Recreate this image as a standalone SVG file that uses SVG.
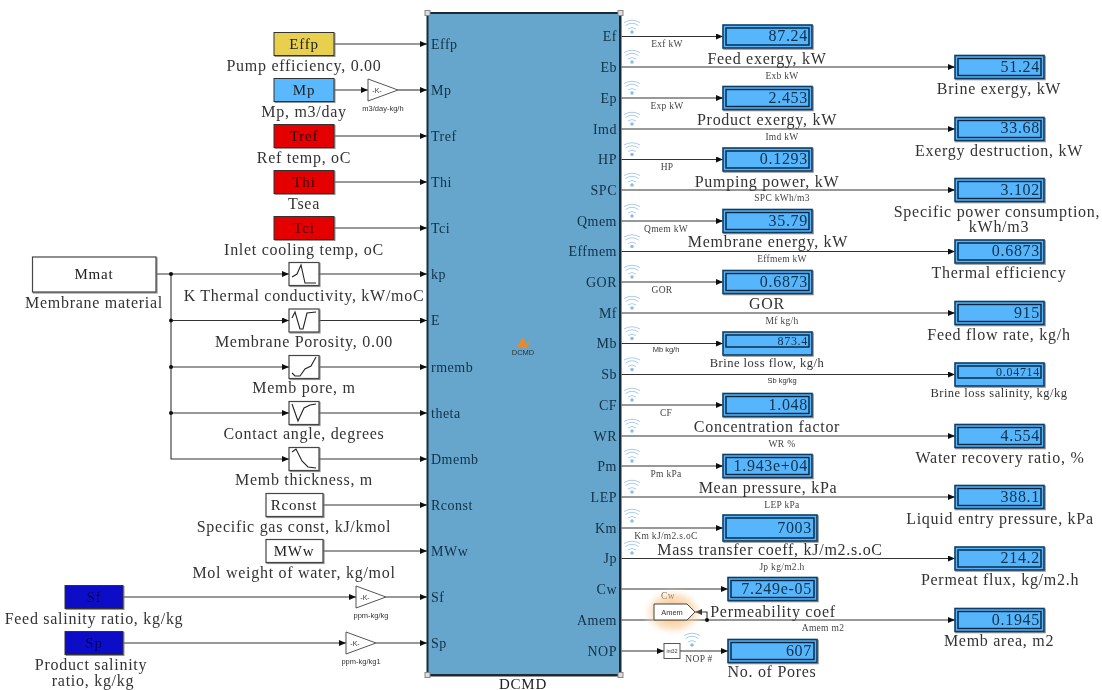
<svg xmlns="http://www.w3.org/2000/svg" xmlns:xlink="http://www.w3.org/1999/xlink" width="1102" height="690" viewBox="0 0 1102 690">
<style>
text{font-family:"Liberation Serif","Times New Roman",serif;fill:#222}
.l{font-size:16px;letter-spacing:.72px;text-anchor:middle;fill:#333}
.n{font-size:15px;letter-spacing:.8px;text-anchor:middle}
.p{font-size:14px;letter-spacing:.5px;fill:#123047}
.r{text-anchor:end}
.t{font-size:9.5px;letter-spacing:.3px;text-anchor:middle;fill:#444}
.x{font-family:"Liberation Sans",Arial,sans-serif;font-size:7.5px;text-anchor:middle;fill:#333}
.v{font-size:16px;letter-spacing:.7px;text-anchor:end;fill:#10304a}
.sm{font-size:12.500px;letter-spacing:.5px}
.vs{font-size:12px}
.b{stroke:#333;stroke-width:1;filter:url(#sh)}
.o{fill:#57b5fb;stroke:#103e63;stroke-width:1.6;filter:url(#sh)}
.i{fill:none;stroke:#08263f;stroke-width:1.4}
.w{fill:#fff;stroke:#444;stroke-width:1.2;filter:url(#sh)}
.c{fill:none;stroke:#333;stroke-width:1.1}
.a{marker-end:url(#ah)}
.g{fill:#fff;stroke:#555;stroke-width:1}
.k{fill:none;stroke:#222;stroke-width:1.1}
</style>
<defs>
<filter id="blur" x="0" y="0" width="100%" height="100%"><feGaussianBlur stdDeviation="0.6"/></filter>
<filter id="sh" x="-10%" y="-10%" width="125%" height="125%"><feDropShadow dx="1" dy="1" stdDeviation="0.7" flood-color="#777" flood-opacity=".8"/></filter>
<marker id="ah" markerUnits="userSpaceOnUse" markerWidth="7" markerHeight="6" refX="7" refY="3" orient="auto"><path d="M0 0L7 3L0 6Z" fill="#111"/></marker>
<radialGradient id="glow"><stop offset="0" stop-color="#f3a24a" stop-opacity=".85"/><stop offset=".65" stop-color="#f8c88f" stop-opacity=".5"/><stop offset="1" stop-color="#fff" stop-opacity="0"/></radialGradient>
<g id="wf"><circle cx="0" cy="0" r="1.8" fill="#8fbce6"/><path d="M-4-3Q0-6 4-3M-6.500-6.500Q0-11 6.500-6.500M-8-9.500Q0-14 8-9.500" fill="none" stroke="#a9cdee" stroke-width="1"/></g>
</defs>
<rect width="1102" height="690" fill="#fff"/>
<g filter="url(#blur)">
<g id="connectors">
<path class="c a" d="M334 44H427"/>
<path class="c a" d="M334 90H368"/><path class="c a" d="M398 90H427"/>
<path class="c a" d="M334 136H427"/><path class="c a" d="M334 182H427"/><path class="c a" d="M334 228H427"/>
<path class="c a" d="M156 274H289"/><path class="c a" d="M171 320.500H289"/><path class="c a" d="M171 367H289"/><path class="c a" d="M171 413H289"/><path class="c a" d="M171 274V459H289"/>
<path class="c a" d="M319 274H427"/><path class="c a" d="M319 320.500H427"/><path class="c a" d="M319 367H427"/><path class="c a" d="M319 413H427"/><path class="c a" d="M319 459H427"/>
<path class="c a" d="M323 505H427"/><path class="c a" d="M323 551H427"/>
<path class="c a" d="M123 597H356"/><path class="c a" d="M386 597H427"/>
<path class="c a" d="M123 643H346"/><path class="c a" d="M376 643H427"/>
<path class="c a" d="M620 36.500H723"/><path class="c a" d="M620 67H955"/><path class="c a" d="M620 98H723"/><path class="c a" d="M620 129H955"/><path class="c a" d="M620 159.500H723"/><path class="c a" d="M620 190H955"/><path class="c a" d="M620 221H723"/><path class="c a" d="M620 251.500H955"/><path class="c a" d="M620 282H723"/><path class="c a" d="M620 313H955"/><path class="c a" d="M620 343.500H723"/><path class="c a" d="M620 374.500H955"/><path class="c a" d="M620 405H723"/><path class="c a" d="M620 436H955"/><path class="c a" d="M620 466H723"/><path class="c a" d="M620 497H955"/><path class="c a" d="M620 528H723"/><path class="c a" d="M620 558.500H955"/><path class="c a" d="M620 589H728"/><path class="c a" d="M620 620H955"/>
<path class="c a" d="M707 620V612H695"/>
<path class="c a" d="M620 651H664"/><path class="c a" d="M680 651H728"/>
<g fill="#111"><circle cx="171" cy="274" r="2"/><circle cx="171" cy="320.500" r="2"/><circle cx="171" cy="367" r="2"/><circle cx="171" cy="413" r="2"/><circle cx="707" cy="620" r="2"/></g>
</g>
<g id="main">
<rect x="427.500" y="13" width="192.500" height="662" fill="#66a6cc" stroke="#1c2c38" stroke-width="2" filter="url(#sh)"/>
<g fill="#ddd" stroke="#888"><rect x="425" y="10.500" width="5" height="5"/><rect x="618" y="10.500" width="5" height="5"/><rect x="425" y="672.500" width="5" height="5"/><rect x="618" y="672.500" width="5" height="5"/></g>
<path d="M517 347L523 337L526 344L530 341L527 348Z" fill="#e98a2c"/>
<text class="x" x="523" y="355" font-size="7">DCMD</text>
<g class="pl"><text class="p" x="431" y="49">Effp</text><text class="p" x="431" y="95">Mp</text><text class="p" x="431" y="141">Tref</text><text class="p" x="431" y="187">Thi</text><text class="p" x="431" y="233">Tci</text><text class="p" x="431" y="279">kp</text><text class="p" x="431" y="325">E</text><text class="p" x="431" y="372">rmemb</text><text class="p" x="431" y="418">theta</text><text class="p" x="431" y="464">Dmemb</text><text class="p" x="431" y="510">Rconst</text><text class="p" x="431" y="556">MWw</text><text class="p" x="431" y="602">Sf</text><text class="p" x="431" y="648">Sp</text></g>
<g class="pr"><text class="p r" x="617" y="41">Ef</text><text class="p r" x="617" y="72">Eb</text><text class="p r" x="617" y="103">Ep</text><text class="p r" x="617" y="134">Imd</text><text class="p r" x="617" y="164">HP</text><text class="p r" x="617" y="195">SPC</text><text class="p r" x="617" y="226">Qmem</text><text class="p r" x="617" y="256">Effmem</text><text class="p r" x="617" y="287">GOR</text><text class="p r" x="617" y="318">Mf</text><text class="p r" x="617" y="348">Mb</text><text class="p r" x="617" y="379">Sb</text><text class="p r" x="617" y="410">CF</text><text class="p r" x="617" y="441">WR</text><text class="p r" x="617" y="471">Pm</text><text class="p r" x="617" y="502">LEP</text><text class="p r" x="617" y="533">Km</text><text class="p r" x="617" y="563">Jp</text><text class="p r" x="617" y="594">Cw</text><text class="p r" x="617" y="625">Amem</text><text class="p r" x="617" y="656">NOP</text></g>
<text class="n" x="523" y="689">DCMD</text>
</g>
<g id="wifi"><use xlink:href="#wf" x="632" y="32"/><use xlink:href="#wf" x="632" y="62"/><use xlink:href="#wf" x="632" y="93"/><use xlink:href="#wf" x="632" y="124"/><use xlink:href="#wf" x="632" y="154.500"/><use xlink:href="#wf" x="632" y="185"/><use xlink:href="#wf" x="632" y="216"/><use xlink:href="#wf" x="632" y="246.500"/><use xlink:href="#wf" x="632" y="277"/><use xlink:href="#wf" x="632" y="308"/><use xlink:href="#wf" x="632" y="338.500"/><use xlink:href="#wf" x="632" y="369.500"/><use xlink:href="#wf" x="632" y="400"/><use xlink:href="#wf" x="632" y="431"/><use xlink:href="#wf" x="632" y="461"/><use xlink:href="#wf" x="632" y="492"/><use xlink:href="#wf" x="632" y="521"/><use xlink:href="#wf" x="632" y="553"/><use xlink:href="#wf" x="692" y="645"/></g>
<g id="Effp"><rect class="b" x="274" y="32.500" width="60" height="23" fill="#e8cf4e"/><text class="n" x="304" y="49">Effp</text><text class="l" x="304" y="71">Pump efficiency, 0.00</text></g>
<g id="Mp"><rect class="b" x="274" y="78.500" width="60" height="23" fill="#5ab8ff"/><text class="n" x="304" y="95">Mp</text><text class="l" x="304" y="117">Mp, m3/day</text></g>
<g id="Tref"><rect class="b" x="274" y="124.500" width="60" height="23" fill="#e40000"/><text class="n" x="304" y="141" style="fill:#300">Tref</text><text class="l" x="304" y="163">Ref temp, oC</text></g>
<g id="Thi"><rect class="b" x="274" y="170.500" width="60" height="23" fill="#e40000"/><text class="n" x="304" y="187" style="fill:#300">Thi</text><text class="l" x="304" y="209">Tsea</text></g>
<g id="Tci"><rect class="b" x="274" y="216.500" width="60" height="23" fill="#e40000"/><text class="n" x="304" y="233" style="fill:#300">Tci</text><text class="l" x="304" y="255">Inlet cooling temp, oC</text></g>
<g id="Mmat"><rect class="w" x="32.500" y="257" width="123.500" height="35"/><text class="n" x="94" y="279">Mmat</text><text class="l" x="94" y="308">Membrane material</text></g>
<g id="kp"><rect class="w" x="289" y="262.500" width="30" height="23"/><path class="k" d="M292 277L297 274L301 265L305 283L316 283"/><text class="l" x="304" y="301">K Thermal conductivity, kW/moC</text></g>
<g id="E"><rect class="w" x="289" y="309" width="30" height="23"/><path class="k" d="M292 318L295 312L300 329L303 329L307 313L316 312"/><text class="l" x="304" y="347">Membrane Porosity, 0.00</text></g>
<g id="rmemb"><rect class="w" x="289" y="355.500" width="30" height="23"/><path class="k" d="M292 373L295 376L300 376L305 369L311 366L316 357"/><text class="l" x="304" y="393">Memb pore, m</text></g>
<g id="theta"><rect class="w" x="289" y="401.500" width="30" height="23"/><path class="k" d="M292 404L298 421L304 408L310 405L316 404"/><text class="l" x="304" y="439">Contact angle, degrees</text></g>
<g id="Dmemb"><rect class="w" x="289" y="447.500" width="30" height="23"/><path class="k" d="M292 452L296 449L302 461L308 467L316 468"/><text class="l" x="304" y="485">Memb thickness, m</text></g>
<g id="Rconst"><rect class="w" x="266" y="493.500" width="57" height="23"/><text class="n" x="294" y="510">Rconst</text><text class="l" x="294" y="532">Specific gas const, kJ/kmol</text></g>
<g id="MWw"><rect class="w" x="266" y="539.500" width="57" height="23"/><text class="n" x="294" y="556">MWw</text><text class="l" x="294" y="578">Mol weight of water, kg/mol</text></g>
<g id="Sf"><rect class="b" x="65" y="585.500" width="58" height="23" fill="#0808c8"/><text class="n" x="94" y="602" style="fill:#04045c">Sf</text><text class="l" x="94" y="624">Feed salinity ratio, kg/kg</text></g>
<g id="Sp"><rect class="b" x="65" y="631.500" width="58" height="23" fill="#0808c8"/><text class="n" x="94" y="648" style="fill:#04045c">Sp</text><text class="l" x="91" y="670">Product salinity</text><text class="l" x="93" y="686">ratio, kg/kg</text></g>
<g id="gainMp"><path class="g" d="M368 79L398 90L368 101Z"/><text class="x" x="377" y="93" style="font-size:7px">-K-</text><text class="x" x="383" y="111">m3/day-kg/h</text></g>
<g id="gainSf"><path class="g" d="M356 586L386 597L356 608Z"/><text class="x" x="365" y="600" style="font-size:7px">-K-</text><text class="x" x="371" y="618">ppm-kg/kg</text></g>
<g id="gainSp"><path class="g" d="M346 632L376 643L346 654Z"/><text class="x" x="355" y="646" style="font-size:7px">-K-</text><text class="x" x="361" y="664">ppm-kg/kg1</text></g>
<g id="dEf"><rect class="o" x="723" y="25" width="89" height="23"/><rect class="i" x="726" y="28" width="83" height="17"/><text class="v" x="808" y="41">87.24</text><text class="l" x="767" y="64">Feed exergy, kW</text><text class="t" x="667" y="47">Exf kW</text></g>
<g id="dEb"><rect class="o" x="955" y="55.500" width="89" height="23"/><rect class="i" x="958" y="58.500" width="83" height="17"/><text class="v" x="1040" y="72">51.24</text><text class="l" x="999" y="94">Brine exergy, kW</text><text class="t" x="782" y="79">Exb kW</text></g>
<g id="dEp"><rect class="o" x="723" y="86.500" width="89" height="23"/><rect class="i" x="726" y="89.500" width="83" height="17"/><text class="v" x="808" y="103">2.453</text><text class="l" x="767" y="125">Product exergy, kW</text><text class="t" x="667" y="109">Exp kW</text></g>
<g id="dImd"><rect class="o" x="955" y="117.500" width="89" height="23"/><rect class="i" x="958" y="120.500" width="83" height="17"/><text class="v" x="1040" y="133">33.68</text><text class="l" x="999" y="156">Exergy destruction, kW</text><text class="t" x="782" y="140">Imd kW</text></g>
<g id="dHP"><rect class="o" x="723" y="148" width="89" height="23"/><rect class="i" x="726" y="151" width="83" height="17"/><text class="v" x="808" y="164">0.1293</text><text class="l" x="767" y="187">Pumping power, kW</text><text class="t" x="667" y="170">HP</text></g>
<g id="dSPC"><rect class="o" x="955" y="178.500" width="89" height="23"/><rect class="i" x="958" y="181.500" width="83" height="17"/><text class="v" x="1040" y="195">3.102</text><text class="l" x="997" y="217">Specific power consumption,</text><text class="l" x="999" y="232">kWh/m3</text><text class="t" x="782" y="201">SPC kWh/m3</text></g>
<g id="dQmem"><rect class="o" x="723" y="209.500" width="89" height="23"/><rect class="i" x="726" y="212.500" width="83" height="17"/><text class="v" x="808" y="226">35.79</text><text class="l" x="768" y="247">Membrane energy, kW</text><text class="t" x="666" y="232">Qmem kW</text></g>
<g id="dEffmem"><rect class="o" x="955" y="240" width="89" height="23"/><rect class="i" x="958" y="243" width="83" height="17"/><text class="v" x="1040" y="256">0.6873</text><text class="l" x="999" y="278">Thermal efficiency</text><text class="t" x="782" y="262">Effmem kW</text></g>
<g id="dGOR"><rect class="o" x="723" y="270.500" width="89" height="23"/><rect class="i" x="726" y="273.500" width="83" height="17"/><text class="v" x="808" y="287">0.6873</text><text class="l" x="767" y="309">GOR</text><text class="t" x="662" y="293">GOR</text></g>
<g id="dMf"><rect class="o" x="955" y="301.500" width="89" height="23"/><rect class="i" x="958" y="304.500" width="83" height="17"/><text class="v" x="1040" y="318">915</text><text class="l" x="999" y="340">Feed flow rate, kg/h</text><text class="t" x="782" y="324">Mf kg/h</text></g>
<g id="dMb"><rect class="o" x="723" y="332" width="89" height="23"/><rect class="i" x="726" y="335" width="83" height="12"/><text class="v vs" x="808" y="345">873.4</text><text class="l sm" x="767" y="367">Brine loss flow, kg/h</text><text class="x" x="666" y="352">Mb kg/h</text></g>
<g id="dSb"><rect class="o" x="955" y="363" width="89" height="23"/><rect class="i" x="958" y="366" width="83" height="12"/><text class="v vs" x="1040" y="376">0.04714</text><text class="l sm" x="999" y="397">Brine loss salinity, kg/kg</text><text class="x" x="782" y="383">Sb kg/kg</text></g>
<g id="dCF"><rect class="o" x="723" y="393.500" width="89" height="23"/><rect class="i" x="726" y="396.500" width="83" height="17"/><text class="v" x="808" y="410">1.048</text><text class="l" x="767" y="432">Concentration factor</text><text class="t" x="666" y="416">CF</text></g>
<g id="dWR"><rect class="o" x="955" y="424.500" width="89" height="23"/><rect class="i" x="958" y="427.500" width="83" height="17"/><text class="v" x="1040" y="441">4.554</text><text class="l" x="1000" y="463">Water recovery ratio, %</text><text class="t" x="782" y="447">WR %</text></g>
<g id="dPm"><rect class="o" x="723" y="454.500" width="89" height="23"/><rect class="i" x="726" y="457.500" width="83" height="17"/><text class="v" x="808" y="471">1.943e+04</text><text class="l" x="768" y="493">Mean pressure, kPa</text><text class="t" x="666" y="477">Pm kPa</text></g>
<g id="dLEP"><rect class="o" x="955" y="485.500" width="89" height="23"/><rect class="i" x="958" y="488.500" width="83" height="17"/><text class="v" x="1040" y="502">388.1</text><text class="l" x="1000" y="524">Liquid entry pressure, kPa</text><text class="t" x="782" y="508">LEP kPa</text></g>
<g id="dKm"><rect class="o" x="723" y="515" width="94" height="26"/><rect class="i" x="726" y="518" width="88" height="20"/><text class="v" x="812" y="533">7003</text><text class="l" x="770" y="555">Mass transfer coeff, kJ/m2.s.oC</text><text class="t" x="666" y="539">Km kJ/m2.s.oC</text></g>
<g id="dJp"><rect class="o" x="955" y="547" width="89" height="23"/><rect class="i" x="958" y="550" width="83" height="17"/><text class="v" x="1040" y="563">214.2</text><text class="l" x="1000" y="585">Permeat flux, kg/m2.h</text><text class="t" x="782" y="570">Jp kg/m2.h</text></g>
<g id="dCw"><rect class="o" x="728" y="577.500" width="89" height="23"/><rect class="i" x="731" y="580.500" width="83" height="17"/><text class="v" x="812" y="594">7.249e-05</text><text class="l" x="773" y="617">Permeability coef</text><text class="t" x="668" y="599">Cw</text></g>
<g id="goto"><ellipse cx="673" cy="612" rx="32" ry="25" fill="url(#glow)"/><path d="M654 604H687L695 612L687 620H654Z" fill="#fff" stroke="#444" stroke-width="1"/><text class="x" x="672" y="615">Amem</text></g>
<g id="dAmem"><rect class="o" x="955" y="608.500" width="89" height="23"/><rect class="i" x="958" y="611.500" width="83" height="17"/><text class="v" x="1040" y="625">0.1945</text><text class="l" x="999" y="646">Memb area, m2</text><text class="t" x="823" y="631">Amem m2</text></g>
<g id="conv"><rect class="g" x="664" y="643.500" width="16" height="15"/><text class="x" x="672" y="653" style="font-size:5px">int32</text></g>
<g id="dNOP"><rect class="o" x="728" y="639.500" width="89" height="23"/><rect class="i" x="731" y="642.500" width="83" height="17"/><text class="v" x="812" y="656">607</text><text class="l" x="772" y="677">No. of Pores</text><text class="t" x="699" y="662">NOP #</text></g>
</g>
</svg>
